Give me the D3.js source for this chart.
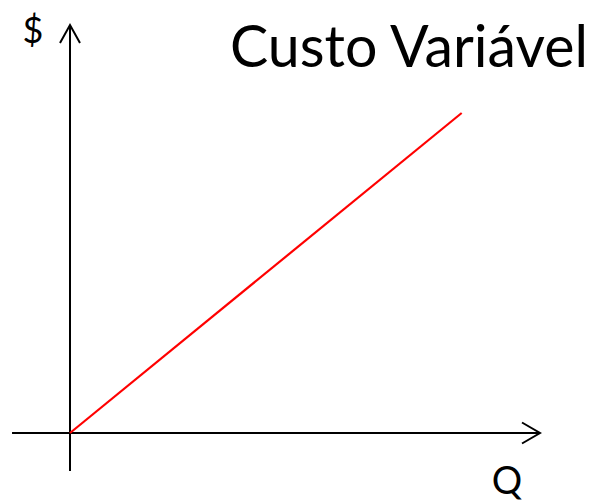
<!DOCTYPE html>
<html>
<head>
<meta charset="utf-8">
<script src="https://cdn.jsdelivr.net/npm/d3@7"></script>
<style>
  html, body { margin: 0; padding: 0; background: #fff; }
  svg { display: block; }
</style>
</head>
<body>
<svg id="chart" width="594" height="503"></svg>
<script>
// Variable cost line: cost grows proportionally with quantity
const quantity = [0, 10];
const cost = [0, 10];
const title = "Custo Variável";
const yLabel = "$";
const xLabel = "Q";

// Axis extents (in data units), including the part behind the origin
const xExtent = [-1.48, 12];
const yExtent = [-1.19, 12.75];

const svg = d3.select("#chart");

const x = d3.scaleLinear().domain([0, 12]).range([70, 540]);
const y = d3.scaleLinear().domain([0, 12.75]).range([433, 25]);

const axisColor = "#000";
const g = svg.append("g");

// Horizontal axis with arrowhead
g.append("line")
  .attr("x1", x(xExtent[0])).attr("x2", x(xExtent[1]))
  .attr("y1", y(0)).attr("y2", y(0))
  .attr("stroke", axisColor).attr("stroke-width", 2);
g.append("path")
  .attr("d", `M${x(xExtent[1]) - 18},${y(0) - 10.5} L${x(xExtent[1])},${y(0)} L${x(xExtent[1]) - 18},${y(0) + 10.5}`)
  .attr("fill", "none").attr("stroke", axisColor).attr("stroke-width", 2);

// Vertical axis with arrowhead
g.append("line")
  .attr("x1", x(0)).attr("x2", x(0))
  .attr("y1", y(yExtent[0])).attr("y2", y(yExtent[1]))
  .attr("stroke", axisColor).attr("stroke-width", 2);
g.append("path")
  .attr("d", `M${x(0) - 10},${y(yExtent[1]) + 18} L${x(0)},${y(yExtent[1])} L${x(0) + 10},${y(yExtent[1]) + 18}`)
  .attr("fill", "none").attr("stroke", axisColor).attr("stroke-width", 2);

// Cost line
const points = quantity.map((q, i) => [q, cost[i]]);
g.append("path")
  .datum(points)
  .attr("d", d3.line().x(d => x(d[0])).y(d => y(d[1])))
  .attr("fill", "none")
  .attr("stroke", "#ff0000")
  .attr("stroke-width", 2.2);

const font = "Lato, 'Open Sans', sans-serif";

// Axis labels
svg.append("text")
  .attr("x", 33).attr("y", 43)
  .attr("text-anchor", "middle")
  .attr("font-family", font).attr("font-size", 36)
  .attr("fill", "#000")
  .text(yLabel);

svg.append("text")
  .attr("x", 507).attr("y", 494)
  .attr("text-anchor", "middle")
  .attr("font-family", font).attr("font-size", 38)
  .attr("fill", "#000")
  .text(xLabel);

// Title, sized so it spans the space right of the vertical axis
const titleText = svg.append("text")
  .attr("x", 230).attr("y", 67)
  .attr("font-family", font).attr("font-size", 64)
  .attr("fill", "#000")
  .text(title);
const targetWidth = 358;
const w = titleText.node().getComputedTextLength();
if (w > 0) titleText.attr("font-size", 64 * targetWidth / w);
</script>
</body>
</html>
